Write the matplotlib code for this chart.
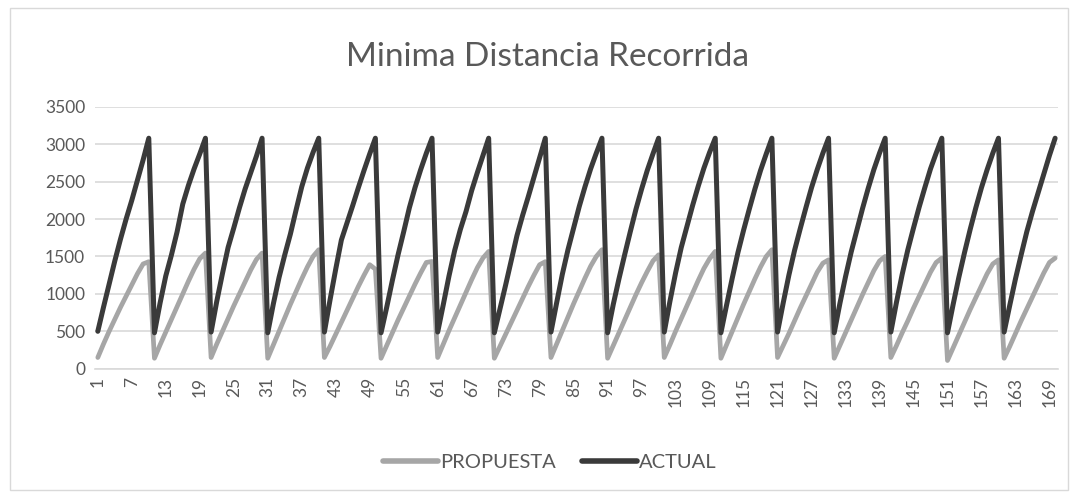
import matplotlib
matplotlib.use("Agg")
import matplotlib.pyplot as plt
from matplotlib.patches import Rectangle

actual = [
    500, 820, 1130, 1440, 1730, 2000, 2250, 2520, 2790, 3080,
    480, 880, 1240, 1520, 1830, 2200, 2450, 2670, 2870, 3080,
    490, 900, 1270, 1620, 1880, 2150, 2400, 2620, 2840, 3080,
    480, 870, 1220, 1520, 1800, 2120, 2430, 2680, 2890, 3080,
    490, 920, 1330, 1720, 1950, 2180, 2420, 2650, 2870, 3080,
    480, 820, 1180, 1520, 1830, 2150, 2420, 2660, 2880, 3080,
    490, 860, 1240, 1580, 1860, 2100, 2380, 2620, 2850, 3080,
    480, 800, 1120, 1450, 1780, 2050, 2300, 2560, 2820, 3080,
    490, 880, 1260, 1590, 1880, 2170, 2430, 2670, 2880, 3080,
    480, 860, 1200, 1520, 1830, 2130, 2400, 2650, 2870, 3080,
    490, 900, 1280, 1620, 1900, 2180, 2440, 2680, 2890, 3080,
    480, 850, 1210, 1550, 1850, 2130, 2400, 2650, 2870, 3080,
    490, 880, 1250, 1580, 1870, 2150, 2420, 2660, 2880, 3080,
    480, 870, 1230, 1560, 1850, 2140, 2410, 2660, 2880, 3080,
    490, 890, 1260, 1590, 1880, 2160, 2420, 2670, 2880, 3080,
    480, 860, 1220, 1550, 1860, 2150, 2420, 2660, 2880, 3080,
    490, 850, 1200, 1520, 1830, 2100, 2350, 2600, 2850, 3080,
]
propuesta = [
    150, 330, 500, 660, 820, 970, 1120, 1270, 1400, 1430,
    140, 320, 490, 660, 830, 1000, 1170, 1330, 1470, 1545,
    150, 330, 500, 670, 840, 1000, 1160, 1320, 1460, 1545,
    140, 320, 500, 680, 860, 1030, 1200, 1360, 1500, 1590,
    150, 300, 460, 620, 780, 940, 1100, 1250, 1390, 1330,
    140, 310, 480, 650, 810, 970, 1130, 1280, 1420, 1433,
    150, 330, 510, 680, 850, 1020, 1190, 1350, 1480, 1567,
    140, 300, 460, 620, 780, 940, 1100, 1250, 1390, 1430,
    150, 330, 510, 690, 870, 1040, 1210, 1370, 1500, 1590,
    140, 310, 480, 650, 820, 990, 1150, 1300, 1440, 1522,
    150, 320, 500, 670, 840, 1010, 1180, 1340, 1470, 1567,
    140, 320, 500, 680, 860, 1030, 1200, 1360, 1500, 1590,
    150, 310, 470, 640, 810, 970, 1130, 1290, 1410, 1455,
    140, 310, 480, 650, 820, 990, 1150, 1310, 1440, 1500,
    150, 310, 480, 640, 810, 970, 1130, 1290, 1420, 1478,
    110, 280, 450, 620, 790, 950, 1110, 1270, 1400, 1455,
    140, 300, 470, 640, 800, 960, 1120, 1280, 1420, 1478,
]
categories = list(range(1, len(actual) + 1))
tick_labels = [str(c) for c in categories[::6]]
y_ticks = [0, 500, 1000, 1500, 2000, 2500, 3000, 3500]

TXT = "#595959"
GRID = "#d9d9d9"

plt.rcParams["font.family"] = ["Lato", "DejaVu Sans"]

fig = plt.figure(figsize=(10.78, 4.98), dpi=100)
ax = fig.add_axes([0.0881, 0.2596, 0.8933, 0.526])

ax.plot(categories, propuesta, color="#a6a6a6", lw=3.4, solid_capstyle="round",
        solid_joinstyle="round", label="PROPUESTA", zorder=3)
ax.plot(categories, actual, color="#3a3a3a", lw=3.6, solid_capstyle="round",
        solid_joinstyle="round", label="ACTUAL", zorder=4)

ax.set_xlim(0.5, len(actual) + 0.5)
ax.set_ylim(0, 3500)
ax.set_yticks(y_ticks)
ax.set_xticks(categories[::6])
ax.set_xticklabels(tick_labels, rotation=90)
ax.grid(True, axis="y", color=GRID, lw=1.2)
ax.set_axisbelow(True)
for s in ("top", "right", "left"):
    ax.spines[s].set_visible(False)
ax.spines["bottom"].set_color(GRID)
ax.spines["bottom"].set_linewidth(1.2)
ax.tick_params(axis="both", length=0, colors=TXT, labelsize=12.5)
ax.tick_params(axis="y", pad=7)
ax.tick_params(axis="x", pad=6)

fig.text(0.508, 0.885, "Minima Distancia Recorrida", ha="center", va="center",
         fontsize=24, color=TXT)

leg = fig.legend(loc="center", bbox_to_anchor=(0.51, 0.072), ncol=2, frameon=False,
                 fontsize=14.5, handlelength=2.75, handletextpad=0.1, columnspacing=1.3)
for t in leg.get_texts():
    t.set_color(TXT)
for h in leg.get_lines():
    h.set_linewidth(4.0)

fig.patches.append(Rectangle((0.009, 0.016), 0.982, 0.968, transform=fig.transFigure,
                             fill=False, edgecolor=GRID, lw=1))

fig.savefig("out.png", dpi=100)
